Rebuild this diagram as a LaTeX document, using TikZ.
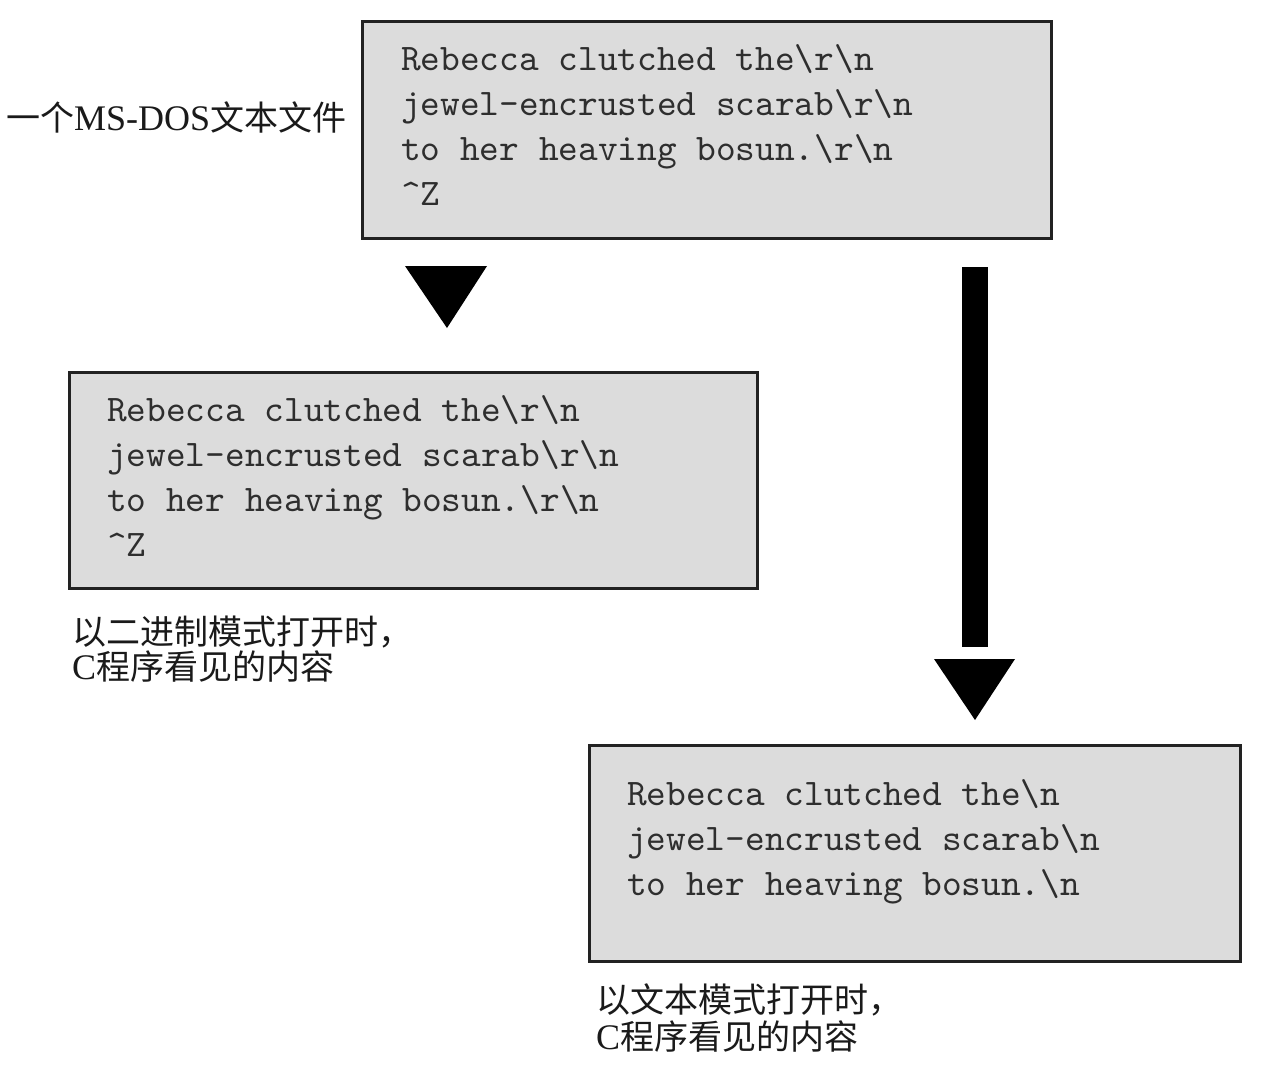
\documentclass[tikz,border=0pt]{standalone}
\usepackage{fontspec}
\setmainfont{Liberation Serif}
\newfontfamily\cjk{Noto Sans CJK SC}
\newfontfamily\monof{lmmono10-regular}[Extension=.otf]
\definecolor{boxfill}{HTML}{DCDCDC}
\definecolor{boxline}{HTML}{222222}
\definecolor{codetxt}{HTML}{2E2E2E}
\definecolor{captxt}{HTML}{1A1A1A}
\begin{document}
\begin{tikzpicture}[x=1pt,y=-1pt,
  filebox/.style={draw=boxline, line width=3pt, fill=boxfill, inner sep=0pt},
  codeline/.style={anchor=base west, inner sep=0pt, text=codetxt, font=\monof\fontsize{37.5}{45}\selectfont},
  caption/.style={anchor=base west, inner sep=0pt, text=captxt, font=\fontsize{34}{36}\selectfont},
  arrowfill/.style={fill=black, draw=none}]
\useasboundingbox (0,0) rectangle (1267,1069);
\fill[white] (0,0) rectangle (1267,1069);

% boxes
\node[filebox, minimum width=689pt, minimum height=217pt] (b1) at (706.5,129.5) {};
\node[filebox, minimum width=688pt, minimum height=216pt] (b2) at (413,480) {};
\node[filebox, minimum width=651pt, minimum height=216pt] (b3) at (914.5,853) {};

% box 1 text
\node[codeline] (t11) at (401,70) {Rebecca clutched the\textbackslash r\textbackslash n};
\node[codeline] (t12) at (401,115) {jewel-encrusted scarab\textbackslash r\textbackslash n};
\node[codeline] (t13) at (401,160) {to her heaving bosun.\textbackslash r\textbackslash n};
\node[codeline] (t14) at (401,205) {\textasciicircum Z};

% box 2 text
\node[codeline] (t21) at (107,421) {Rebecca clutched the\textbackslash r\textbackslash n};
\node[codeline] (t22) at (107,466) {jewel-encrusted scarab\textbackslash r\textbackslash n};
\node[codeline] (t23) at (107,511) {to her heaving bosun.\textbackslash r\textbackslash n};
\node[codeline] (t24) at (107,556) {\textasciicircum Z};

% box 3 text
\node[codeline] (t31) at (627,805) {Rebecca clutched the\textbackslash n};
\node[codeline] (t32) at (627,850) {jewel-encrusted scarab\textbackslash n};
\node[codeline] (t33) at (627,895) {to her heaving bosun.\textbackslash n};

% captions
\node[caption] (c1) at (6,130) {{\cjk 一个}{\fontsize{36}{36}\selectfont MS-DOS}{\cjk 文本文件}};
\node[caption] (c2a) at (72,644) {\cjk 以二进制模式打开时，};
\node[caption] (c2b) at (72,679) {{\fontsize{36}{36}\selectfont C}{\cjk 程序看见的内容}};
\node[caption] (c3a) at (596,1012) {\cjk 以文本模式打开时，};
\node[caption] (c3b) at (596,1049) {{\fontsize{36}{36}\selectfont C}{\cjk 程序看见的内容}};

% arrows
\coordinate (a1l) at (405,266);
\coordinate (a1r) at (487,266);
\coordinate (a1tip) at (447,328);
\fill[arrowfill] (a1l) -- (a1r) -- (a1tip) -- cycle;

\coordinate (s2top) at (962,267);
\coordinate (s2bot) at (988,647);
\fill[arrowfill] (s2top) rectangle (s2bot);
\coordinate (a2l) at (934,659);
\coordinate (a2r) at (1015,659);
\coordinate (a2tip) at (975,720);
\fill[arrowfill] (a2l) -- (a2r) -- (a2tip) -- cycle;
\end{tikzpicture}
\end{document}
